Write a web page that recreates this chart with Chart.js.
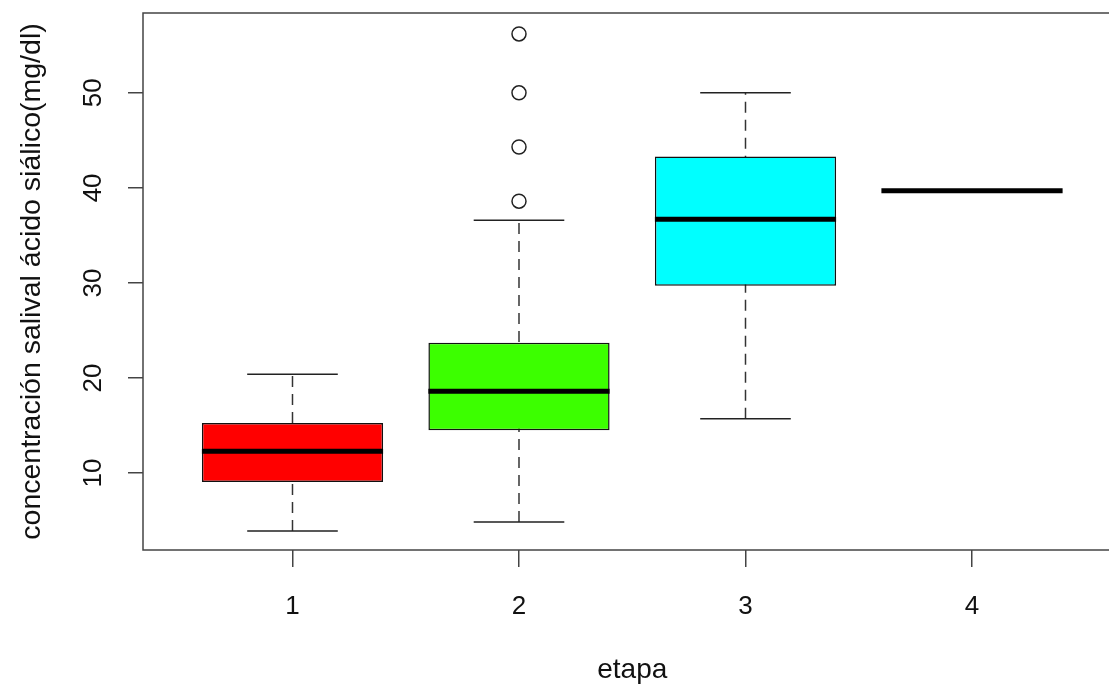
<!DOCTYPE html>
<html>
<head>
<meta charset="utf-8">
<script src="https://cdn.jsdelivr.net/npm/chart.js@4.4.0/dist/chart.umd.min.js"></script>
<style>
  html, body { margin: 0; padding: 0; background: #fff; overflow: hidden; }
</style>
</head>
<body>
<canvas id="chart" width="1130" height="687"></canvas>
<script>
// boxplot summary per etapa
const etapas = [1, 2, 3, 4];
const q1 = [9.05, 14.5, 29.7, 39.7];
const q3 = [15.26, 23.7, 43.3, 39.7];
const medians = [12.3, 18.6, 36.7, 39.7];
const whiskerLow = [3.9, 4.85, 15.7, 39.7];
const whiskerHigh = [20.4, 36.6, 50.0, 39.7];
const boxColors = ['#ff0000', '#3cff00', '#00ffff', '#ffffff'];

// outliers (all in etapa 2)
const outlierEtapa = [2, 2, 2, 2];
const outlierValues = [38.6, 44.3, 50.0, 56.2];

const yTicks = [10, 20, 30, 40, 50];

const BOX_HALF = 0.4;
const CAP_HALF = 0.2;
const FONT = "'Liberation Sans', Arial, sans-serif";

// build line data for whiskers, caps and medians
const stemData = [];
const capData = [];
const medianData = [];
etapas.forEach((e, i) => {
    stemData.push({x: e, y: whiskerLow[i]}, {x: e, y: whiskerHigh[i]}, {x: e, y: null});
    capData.push({x: e - CAP_HALF, y: whiskerLow[i]}, {x: e + CAP_HALF, y: whiskerLow[i]}, {x: e, y: null});
    capData.push({x: e - CAP_HALF, y: whiskerHigh[i]}, {x: e + CAP_HALF, y: whiskerHigh[i]}, {x: e, y: null});
    medianData.push({x: e - BOX_HALF, y: medians[i]}, {x: e + BOX_HALF, y: medians[i]}, {x: e, y: null});
});

// R style box round the plot region
const framePlugin = {
    id: 'frame',
    afterDraw(chart) {
        const a = chart.chartArea;
        const ctx = chart.ctx;
        ctx.save();
        ctx.strokeStyle = '#444';
        ctx.lineWidth = 1.5;
        ctx.strokeRect(a.left, a.top, a.right - a.left, a.bottom - a.top);
        ctx.restore();
    }
};

const ctx = document.getElementById('chart').getContext('2d');
new Chart(ctx, {
    type: 'bar',
    data: {
        datasets: [
            {
                type: 'line',
                data: medianData,
                borderColor: '#000',
                borderWidth: 5,
                borderCapStyle: 'butt',
                pointRadius: 0,
                spanGaps: false,
                order: 0
            },
            {
                type: 'scatter',
                data: outlierEtapa.map((e, i) => ({x: e, y: outlierValues[i]})),
                pointStyle: 'circle',
                pointRadius: 7,
                pointBorderWidth: 1.5,
                pointBorderColor: '#222',
                pointBackgroundColor: 'rgba(0,0,0,0)',
                order: 0
            },
            {
                type: 'bar',
                data: etapas.map((e, i) => ({x: e, y: [q1[i], q3[i]]})),
                backgroundColor: boxColors,
                borderColor: '#111',
                borderWidth: 1.5,
                borderSkipped: false,
                barPercentage: 0.8,
                categoryPercentage: 1,
                order: 1
            },
            {
                type: 'line',
                data: capData,
                borderColor: '#222',
                borderWidth: 1.5,
                pointRadius: 0,
                spanGaps: false,
                order: 2
            },
            {
                type: 'line',
                data: stemData,
                borderColor: '#333',
                borderWidth: 1.5,
                borderDash: [11, 7],
                pointRadius: 0,
                spanGaps: false,
                order: 3
            }
        ]
    },
    options: {
        responsive: false,
        animation: false,
        layout: { padding: { top: 13, right: 2, bottom: 0, left: 0 } },
        plugins: {
            legend: { display: false },
            tooltip: { enabled: false }
        },
        scales: {
            x: {
                type: 'linear',
                min: 0.34,
                max: 4.66,
                offset: false,
                afterBuildTicks: s => { s.ticks = etapas.map(v => ({value: v})); },
                afterFit: s => { s.height = 137; s.paddingLeft = 0; s.paddingRight = 0; },
                ticks: { font: { family: FONT, size: 26 }, color: '#111', padding: 24 },
                grid: { offset: false, drawOnChartArea: false, drawTicks: true, tickLength: 17, color: '#444', lineWidth: 1.5 },
                border: { display: false },
                title: { display: true, text: 'etapa', font: { family: FONT, size: 28 }, color: '#111', padding: { top: 0, bottom: 0 } }
            },
            y: {
                type: 'linear',
                min: 1.9,
                max: 58.4,
                afterBuildTicks: s => { s.ticks = yTicks.map(v => ({value: v})); },
                afterFit: s => { s.width = 143; s.paddingTop = 0; s.paddingBottom = 0; },
                ticks: { font: { family: FONT, size: 26 }, color: '#111', minRotation: 90, maxRotation: 90, crossAlign: 'center', padding: 20 },
                grid: { drawOnChartArea: false, drawTicks: true, tickLength: 15, color: '#444', lineWidth: 1.5 },
                border: { display: false },
                title: { display: true, text: 'concentración salival ácido siálico(mg/dl)', font: { family: FONT, size: 28.5 }, color: '#111', padding: { top: 15, bottom: 0 } }
            }
        }
    },
    plugins: [framePlugin]
});
</script>
</body>
</html>
